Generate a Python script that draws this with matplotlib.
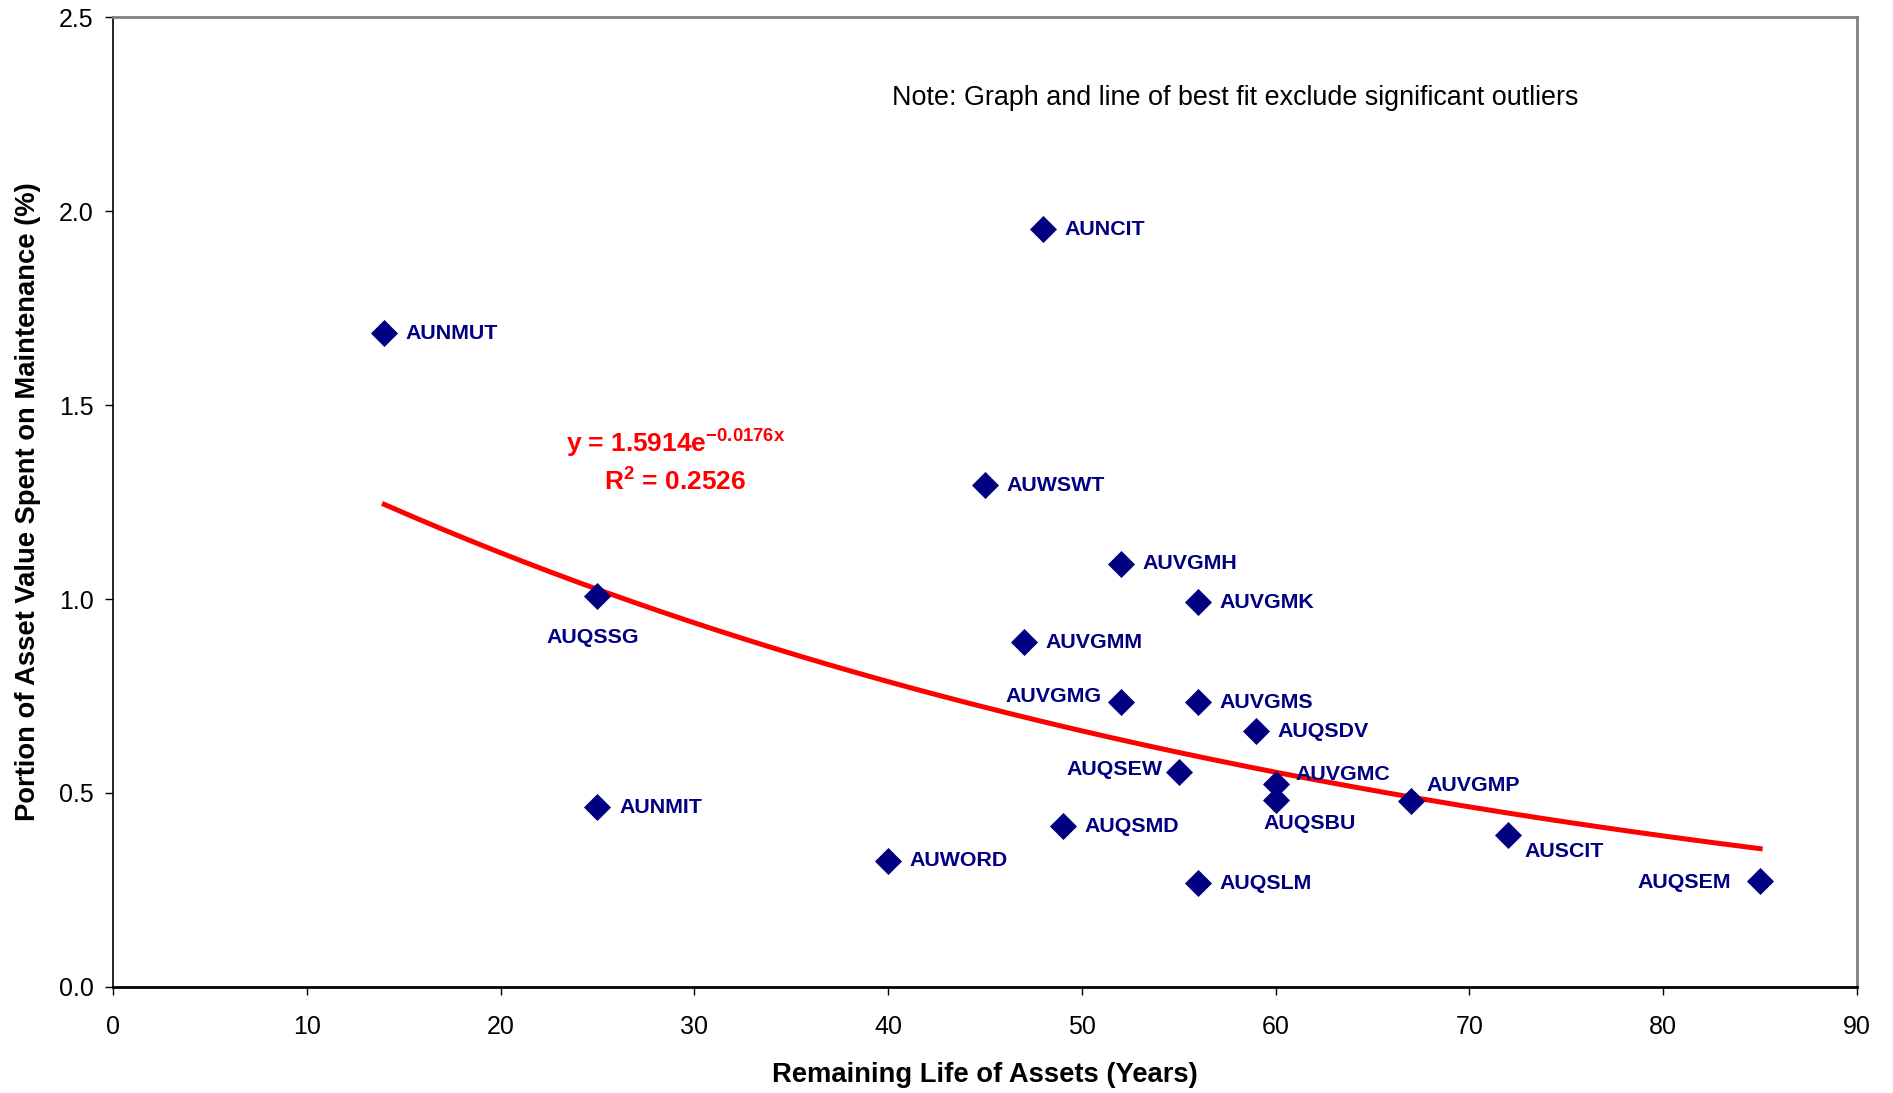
import numpy as np
import matplotlib
matplotlib.use("Agg")
import matplotlib.pyplot as plt

plt.rcParams["font.family"] = ["Liberation Sans", "DejaVu Sans"]
plt.rcParams["mathtext.fontset"] = "custom"
plt.rcParams["mathtext.rm"] = "Liberation Sans"
plt.rcParams["mathtext.bf"] = "Liberation Sans:bold"

# remaining life (years) vs share of asset value spent on maintenance (%)
names = ["AUNMUT", "AUNCIT", "AUWSWT", "AUVGMH", "AUVGMK", "AUQSSG", "AUVGMM",
         "AUVGMG", "AUVGMS", "AUQSDV", "AUQSEW", "AUVGMC", "AUQSBU", "AUVGMP",
         "AUNMIT", "AUQSMD", "AUSCIT", "AUWORD", "AUQSLM", "AUQSEM"]
life = [14, 48, 45, 52, 56, 25, 47, 52, 56, 59, 55, 60, 60, 67, 25, 49, 72, 40, 56, 85]
maint = [1.685, 1.953, 1.293, 1.091, 0.992, 1.007, 0.889, 0.734, 0.734, 0.659,
         0.553, 0.522, 0.482, 0.479, 0.463, 0.414, 0.392, 0.326, 0.267, 0.274]

# exponential trend line
fit_a, fit_b = 1.5914, -0.0176
r2 = 0.2526

# label offsets in points (dx, dy, ha)
label_pos = {
    "AUQSSG": (-3.5, -30, "center"),
    "AUVGMG": (-14, 4, "right"),
    "AUQSEW": (-12, 2, "right"),
    "AUVGMC": (14, 7.5, "left"),
    "AUQSBU": (-8.5, -17, "left"),
    "AUVGMP": (11, 11, "left"),
    "AUSCIT": (12, -12, "left"),
    "AUQSEM": (-21, -1.5, "right"),
}

fig = plt.figure(figsize=(18.93, 10.93), dpi=100)
ax = fig.add_axes([0.0597, 0.097, 0.9213, 0.8874])

xs = np.linspace(min(life), max(life), 200)
ax.plot(xs, fit_a * np.exp(fit_b * xs), color="#ff0000", lw=3.6, zorder=3)

ax.scatter(life, maint, marker="D", s=190, color="#000080", zorder=4, linewidths=0)

for n, x, y in zip(names, life, maint):
    dx, dy, ha = label_pos.get(n, (15.5, 0, "left"))
    ax.annotate(n, (x, y), xytext=(dx, dy), textcoords="offset points",
                ha=ha, va="center", fontsize=15.4, fontweight="bold",
                color="#000080", zorder=5)

ax.text(0.3225, 0.561, r"y = 1.5914e$^{\mathbf{-0.0176x}}$", transform=ax.transAxes,
        ha="center", va="center", fontsize=19, fontweight="bold", color="#ff0000")
ax.text(0.3225, 0.5224, r"R$^{\mathbf{2}}$ = %.4f" % r2, transform=ax.transAxes,
        ha="center", va="center", fontsize=19, fontweight="bold", color="#ff0000")

ax.text(0.6436, 0.9167, "Note: Graph and line of best fit exclude significant outliers",
        transform=ax.transAxes, ha="center", va="center", fontsize=19.4)

ax.set_xlim(0, 90)
ax.set_ylim(0, 2.5)
ax.set_xticks(np.arange(0, 91, 10))
ax.set_yticks(np.arange(0, 2.51, 0.5))
ax.set_yticklabels(["%.1f" % v for v in np.arange(0, 2.51, 0.5)])
ax.tick_params(direction="out", length=6, width=1, labelsize=18, pad=8)
ax.tick_params(axis="x", pad=14)

for s in ["top", "right"]:
    ax.spines[s].set_color("#808080")
    ax.spines[s].set_linewidth(2)
ax.spines["left"].set_linewidth(1.2)
ax.spines["bottom"].set_linewidth(2)

ax.set_xlabel("Remaining Life of Assets (Years)", fontsize=19.7, fontweight="bold", labelpad=17)
ax.set_ylabel("Portion of Asset Value Spent on Maintenance (%)", fontsize=19.7,
              fontweight="bold", labelpad=13)

fig.savefig("out.png", dpi=100)
